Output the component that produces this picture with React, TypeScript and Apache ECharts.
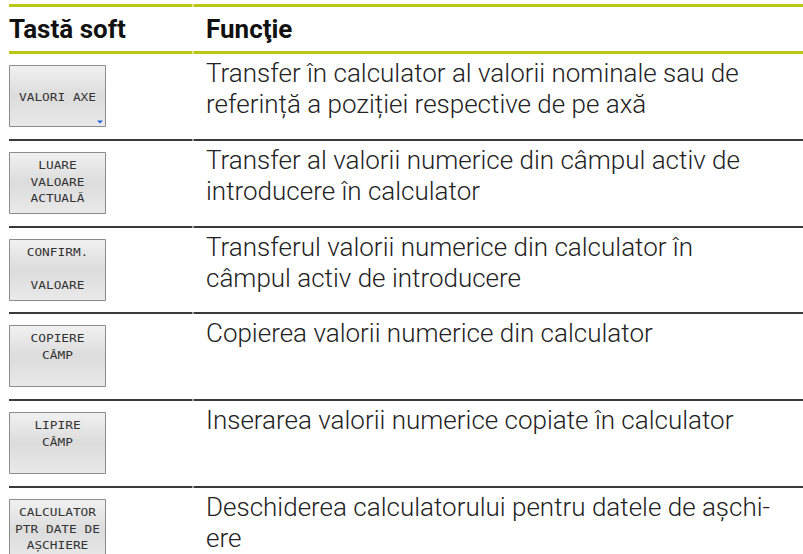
import React, { useEffect, useRef } from "react";
import * as echarts from "echarts";

const headers = ["Tastă soft", "Funcţie"];

const keyLabels: string[][] = [
  ["VALORI AXE"],
  ["LUARE", "VALOARE", "ACTUALĂ"],
  ["CONFIRM.", "", "VALOARE"],
  ["COPIERE", "CÂMP"],
  ["LIPIRE", "CÂMP"],
  ["CALCULATOR", "PTR DATE DE", "AȘCHIERE"],
];

const descriptions: string[][] = [
  ["Transfer în calculator al valorii nominale sau de", "referință a poziției respective de pe axă"],
  ["Transfer al valorii numerice din câmpul activ de", "introducere în calculator"],
  ["Transferul valorii numerice din calculator în", "câmpul activ de introducere"],
  ["Copierea valorii numerice din calculator"],
  ["Inserarea valorii numerice copiate în calculator"],
  ["Deschiderea calculatorului pentru datele de așchi-", "ere"],
];

const hasMenuArrow = [true, false, false, false, false, false];

export default function App() {
  const ref = useRef<HTMLDivElement>(null);
  useEffect(() => {
    if (!ref.current) return;
    const chart = echarts.init(ref.current, null, { renderer: "svg" });
    const W = 803;
    const left = 9;
    const colX = 193;
    const textX = 206;
    const rowTops = [53, 140, 227, 313, 400, 487];
    const els: any[] = [];
    const green = "#bcc614";
    const dark = "#3a3a3a";

    const hline = (y: number, color: string, w: number) => {
      els.push({ type: "line", shape: { x1: left, y1: y, x2: colX - 0.5, y2: y }, style: { stroke: color, lineWidth: w } });
      els.push({ type: "line", shape: { x1: colX + 0.5, y1: y, x2: W, y2: y }, style: { stroke: color, lineWidth: w } });
    };
    hline(5.5, green, 3);
    hline(52.5, green, 3);
    for (let i = 1; i < rowTops.length; i++) hline(rowTops[i], dark, 2);

    els.push({ type: "text", x: left, y: 29, style: { text: headers[0], font: "bold 26px Roboto", fill: "#111", textVerticalAlign: "middle" } });
    els.push({ type: "text", x: textX, y: 29, style: { text: headers[1], font: "bold 26px Roboto", fill: "#111", textVerticalAlign: "middle" } });

    rowTops.forEach((top, i) => {
      const bx = 9.5, by = top + 12.5, bw = 96, bh = 61;
      els.push({
        type: "rect",
        shape: { x: bx, y: by, width: bw, height: bh },
        style: {
          fill: new echarts.graphic.LinearGradient(0, 0, 0, 1, [
            { offset: 0, color: "#f1f1f1" },
            { offset: 0.5, color: "#dcdcdc" },
            { offset: 1, color: "#e9e9e9" },
          ]),
          stroke: "#8c8c8c",
          lineWidth: 1,
        },
      });
      const labels = keyLabels[i];
      const cx = bx + bw / 2;
      const kf = "10.5px 'DejaVu Sans Mono'";
      if (labels.length === 1) {
        els.push({ type: "text", x: cx, y: by + bh / 2 + 1, scaleX: 1.22, style: { text: labels[0], font: kf, fill: "#333", textAlign: "center", textVerticalAlign: "middle" } });
      } else {
        labels.forEach((l, j) => {
          if (!l) return;
          els.push({ type: "text", x: cx, y: by + 13 + j * 16.5, scaleX: 1.22, style: { text: l, font: kf, fill: "#333", textAlign: "center", textVerticalAlign: "middle" } });
        });
      }
      if (hasMenuArrow[i]) {
        els.push({ type: "polygon", shape: { points: [[97, by + bh - 6], [103, by + bh - 6], [100, by + bh - 3]] }, style: { fill: "#2266dd" } });
      }
      descriptions[i].forEach((line, j) => {
        els.push({ type: "text", x: textX, y: top + 20 + j * 30.5, style: { text: line, font: "300 26px 'Roboto Light', Roboto", fill: "#222", textVerticalAlign: "middle" } });
      });
    });

    chart.setOption({ animation: false, graphic: { elements: els } });
    return () => chart.dispose();
  }, []);
  return <div ref={ref} style={{ position: "fixed", left: 0, top: 0, width: 803, height: 554, background: "#fff" }} />;
}
